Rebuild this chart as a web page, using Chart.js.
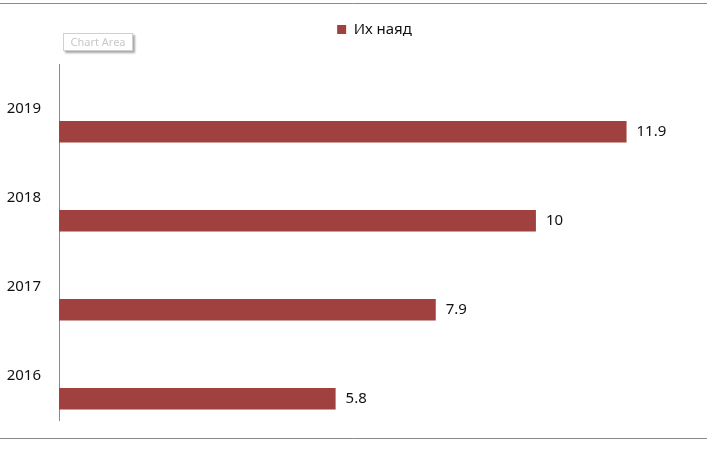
<!DOCTYPE html>
<html><head><meta charset="utf-8">
<script src="https://cdn.jsdelivr.net/npm/chart.js@4"></script>
<style>
html,body{margin:0;padding:0;background:#fff;}
#wrap{position:relative;width:707px;height:453px;}
#tip{position:absolute;left:63px;top:33px;width:68px;height:16px;border:1px solid #d0d0d0;background:#fff;box-shadow:2px 2px 2px rgba(0,0,0,0.35);font:11px "Noto Sans",sans-serif;color:#c8c8c8;text-align:center;line-height:16px;}
</style></head>
<body><div id="wrap"><canvas id="c" width="707" height="453"></canvas><div id="tip">Chart Area</div></div>
<script>
const categories = ['2019','2018','2017','2016'];
const seriesName = 'Их наяд';
const values = [11.9, 10, 7.9, 5.8];
const emptySeries = [null, null, null, null];

const FONT = '"Noto Sans", sans-serif';

const legendMargin = {
  id:'legendMargin',
  beforeInit(chart){
    const fit = chart.legend.fit;
    chart.legend.fit = function(){ fit.bind(chart.legend)(); this.height += 17; };
  },
  afterLayout(chart){
    chart.legend.left += 35;
    chart.legend.right += 35;
  }
};
const frameLines = {
  id:'frameLines',
  beforeDraw(chart){
    const ctx = chart.ctx;
    ctx.save();
    ctx.strokeStyle = '#8a8a8a'; ctx.lineWidth = 1;
    ctx.beginPath();
    ctx.moveTo(0,3.5); ctx.lineTo(chart.width,3.5);
    ctx.moveTo(0,438.5); ctx.lineTo(chart.width,438.5);
    ctx.stroke();
    ctx.restore();
  }
};
const valueLabels = {
  id:'valueLabels',
  afterDatasetsDraw(chart){
    const ctx = chart.ctx;
    const meta = chart.getDatasetMeta(1);
    ctx.save();
    ctx.font = '15px ' + FONT;
    ctx.fillStyle = '#111';
    ctx.textBaseline = 'middle';
    ctx.textAlign = 'left';
    meta.data.forEach((bar,i)=>{
      const v = chart.data.datasets[1].data[i];
      ctx.fillText(String(v), bar.x + 10, bar.y);
    });
    ctx.restore();
  }
};

new Chart(document.getElementById('c'), {
  type:'bar',
  data:{
    labels:categories,
    datasets:[
      {label:'', data:emptySeries, backgroundColor:'rgba(0,0,0,0)'},
      {label:seriesName, data:values, backgroundColor:'#A0413F', borderWidth:0}
    ]
  },
  options:{
    indexAxis:'y',
    responsive:false,
    animation:false,
    events:[],
    categoryPercentage:1.05,
    barPercentage:0.46,
    layout:{padding:{left:0,right:28,top:12,bottom:33}},
    plugins:{
      legend:{
        display:true,
        position:'top',
        labels:{
          filter:(item)=>item.datasetIndex===1,
          boxWidth:9, boxHeight:9,
          font:{family:FONT,size:15},
          color:'#111',
          padding:10
        }
      },
      tooltip:{enabled:false}
    },
    scales:{
      x:{display:false, min:0, max:13},
      y:{
        afterFit(scale){ scale.width = 59; },
        grid:{display:false, drawTicks:false},
        border:{display:true,color:'#8a8a8a',width:1},
        ticks:{font:{family:FONT,size:15},color:'#111',padding:18}
      }
    }
  },
  plugins:[legendMargin, frameLines, valueLabels]
});
</script></body></html>
